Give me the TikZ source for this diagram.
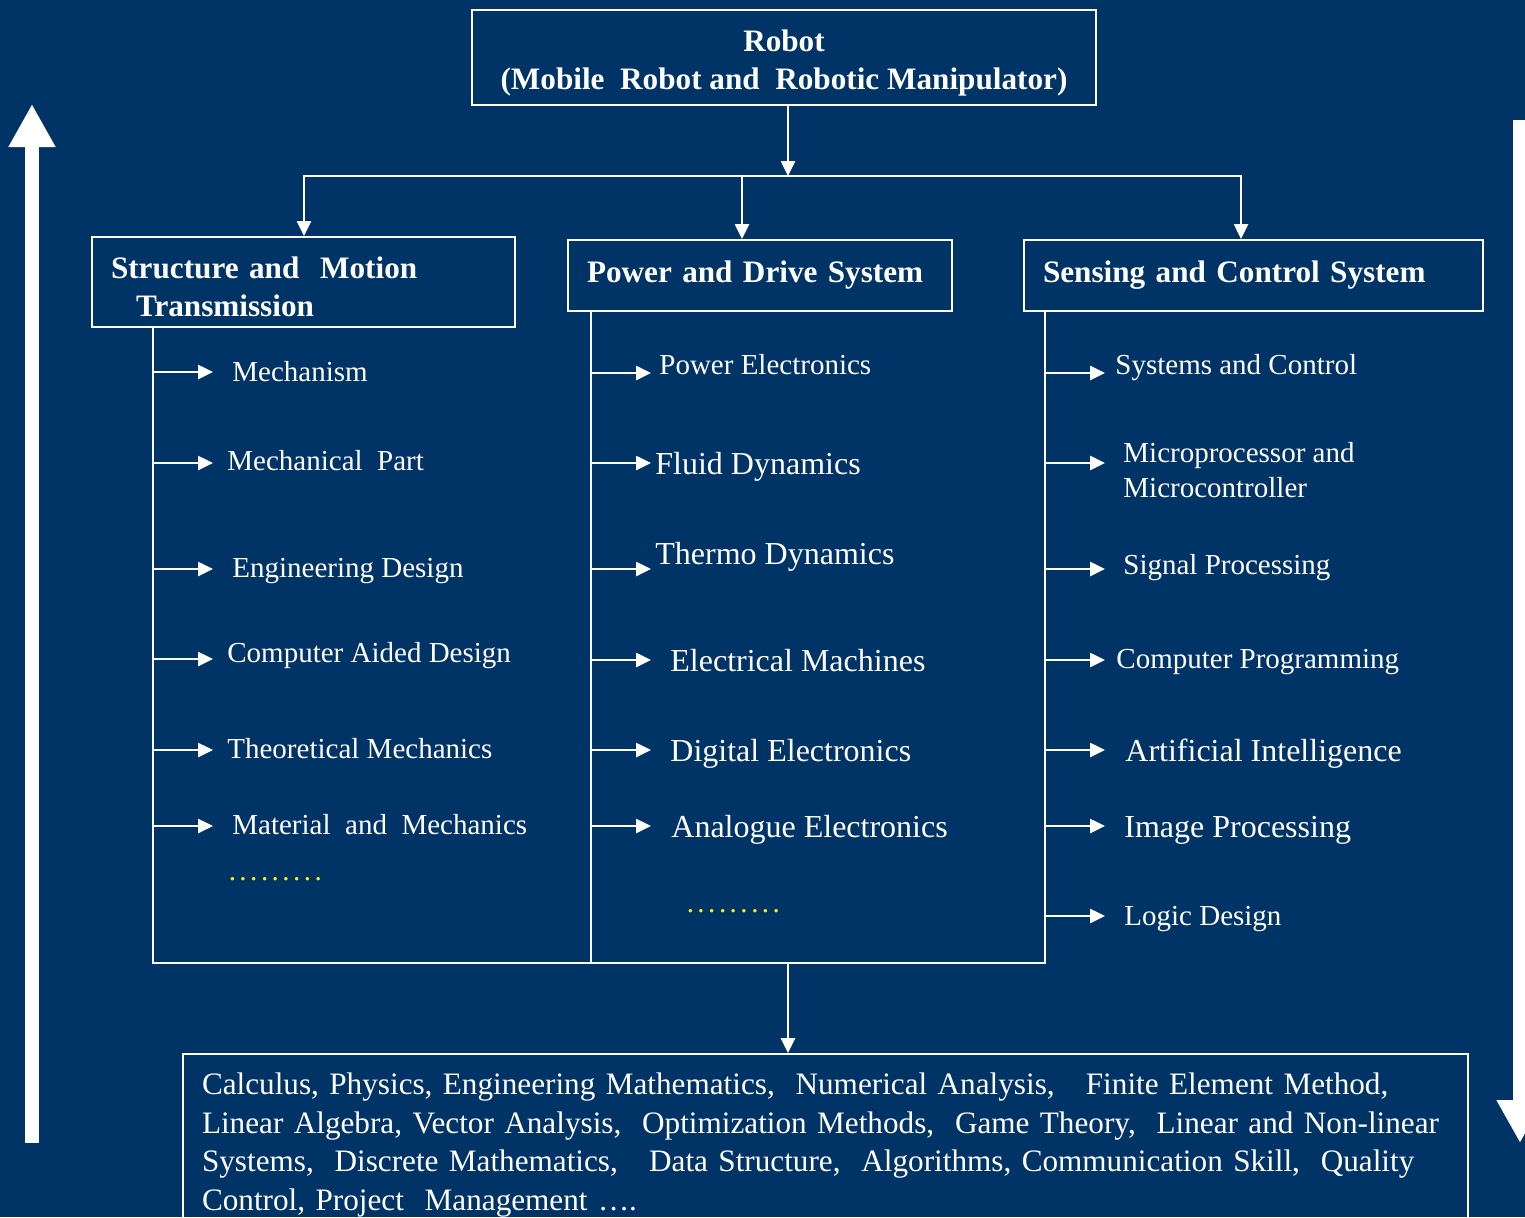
\documentclass[tikz,border=0pt]{standalone}
\usepackage{fontspec}
\setmainfont{Liberation Serif}
\usetikzlibrary{arrows.meta}
\definecolor{bgnavy}{HTML}{003366}
\newcommand{\dotrow}{\foreach \i in {1,...,9}{\makebox[5.375pt]{.}}}

\begin{document}
\begin{tikzpicture}[x=0.5pt,y=0.5pt,yscale=-1,
  conn/.style={white, line width=1.3pt},
  tip/.style={conn, -{Triangle[length=7.5pt,width=7pt]}},
  bigarrow/.style={white, line width=7pt, -{Triangle[length=21.5pt,width=22pt]}},
  box/.style={draw=white, line width=1pt, text=white, inner xsep=9.5pt, inner ysep=0pt},
  head/.style={box, font=\fontsize{15.6}{19}\selectfont\bfseries, align=left},
  itemS/.style={text=white, inner sep=0pt, align=left, font=\fontsize{14.5}{17.5}\selectfont},
  itemL/.style={text=white, inner sep=0pt, align=left, font=\fontsize{16}{19}\selectfont},
  dotted row/.style={text=yellow, inner sep=0pt, font=\fontsize{14.5}{17.5}\selectfont}
]
%Background
\fill[bgnavy] (0,0) rectangle (1525,1217);
\useasboundingbox (0,0) rectangle (1525,1217);

% Text Node
\node[box, font=\fontsize{15.6}{19}\selectfont\bfseries, align=center, minimum width=312pt, minimum height=47.5pt] (robot) at (784,57.5) {\rule{0pt}{16.4pt}Robot\\(Mobile\ \ Robot and\ \ Robotic Manipulator)};
% Text Node
\node[head, text width=192.5pt, minimum height=45pt] (smt) at (303.5,282) {\rule{0pt}{15.7pt}Structure and\ \ Motion\\\hspace*{12.5pt}Transmission};
% Text Node
\node[head, text width=173pt, minimum height=35.5pt] (pds) at (760,275.5) {Power and Drive System};
% Text Node
\node[head, text width=210.5pt, minimum height=35.5pt] (scs) at (1253.5,275.5) {Sensing and Control System};
% Text Node
\node[box, inner ysep=9.5pt, anchor=north, text width=623.5pt, align=left, font=\fontsize{15.6}{19.25}\selectfont] (basics) at (825.5,1053) {Calculus, Physics, Engineering Mathematics,\ \ Numerical Analysis,\ \ \ Finite Element Method,\\
Linear Algebra, Vector Analysis,\ \ Optimization Methods,\ \ Game Theory,\ \ Linear and Non\mbox{-}linear\\
Systems,\ \ Discrete Mathematics,\ \ \ Data Structure,\ \ Algorithms, Communication Skill,\ \ Quality\\
Control, Project\ \ Management ….};

%Straight Lines
\coordinate (bus) at (788,176);
\coordinate (d1) at (304,176);
\coordinate (d2) at (742,176);
\coordinate (d3) at (1241,176);
\draw[tip] (robot.south -| bus) -- (bus);
\draw[tip] (bus) -- (d1) -- (d1 |- smt.north);
\draw[tip] (bus) -- (d3) -- (d3 |- scs.north);
\draw[tip] (d2) -- (d2 |- pds.north);

%Straight Lines
\coordinate (s1) at (153,963);
\coordinate (s2) at (591,963);
\coordinate (s3) at (1045,963);
\coordinate (base) at (788,963);
\draw[conn] (smt.south -| s1) -- (s1) -- (s3) -- (scs.south -| s3);
\draw[conn] (pds.south -| s2) -- (s2);
\draw[tip] (base) -- (base |- basics.north);

% Structure and Motion Transmission
\foreach \n/\ay/\tx/\ty/\sz/\txt in {
  1/372/232/381.6/itemS/Mechanism,
  2/463/227/470.6/itemS/Mechanical\ \ Part,
  3/569/232/577.6/itemS/Engineering Design,
  4/659/227/662.6/itemS/Computer Aided Design,
  5/750/227/758.6/itemS/Theoretical Mechanics,
  6/826/232/834.6/itemS/Material\ \ and\ \ Mechanics}
{
  \coordinate (a\n) at (213,\ay);
  \node[\sz, anchor=base west] (m\n) at (\tx,\ty) {\txt};
  \draw[tip] (s1 |- a\n) -- (a\n);
}
% Power and Drive System
\foreach \n/\ay/\tx/\ty/\sz/\txt in {
  1/373/659/374.6/itemS/Power Electronics,
  2/463/655/474.6/itemL/Fluid Dynamics,
  3/569/655/564.6/itemL/Thermo Dynamics,
  4/660/670/671.6/itemL/Electrical Machines,
  5/750/670/761.6/itemL/Digital Electronics,
  6/826/671/837.6/itemL/Analogue Electronics}
{
  \coordinate (b\n) at (651,\ay);
  \node[\sz, anchor=base west] (p\n) at (\tx,\ty) {\txt};
  \draw[tip] (s2 |- b\n) -- (b\n);
}
% Sensing and Control System
\foreach \n/\ay/\tx/\ty/\sz/\txt in {
  1/373/1115/374.6/itemS/Systems and Control,
  2/463/1123/497/itemS/{Microprocessor and\\Microcontroller},
  3/569/1123/574.6/itemS/Signal Processing,
  4/660/1116/668.6/itemS/Computer Programming,
  5/750/1125/761.6/itemL/Artificial Intelligence,
  6/826/1124/837.6/itemL/Image Processing,
  7/916/1124/925.6/itemS/Logic Design}
{
  \coordinate (c\n) at (1105,\ay);
  \node[\sz, anchor=base west] (q\n) at (\tx,\ty) {\txt};
  \draw[tip] (s3 |- c\n) -- (c\n);
}

% Text Node
\node[dotted row, anchor=base west] (dotsA) at (226.6,880) {\dotrow};
% Text Node
\node[dotted row, anchor=base west] (dotsB) at (684.6,912) {\dotrow};

%Arrows at the sides
\coordinate (upfoot) at (32,1143);
\coordinate (uphead) at (32,104);
\draw[bigarrow] (upfoot) -- (uphead);
\coordinate (downtail) at (1520,120);
\coordinate (downhead) at (1520,1143);
\draw[bigarrow] (downtail) -- (downhead);

\end{tikzpicture}
\end{document}
